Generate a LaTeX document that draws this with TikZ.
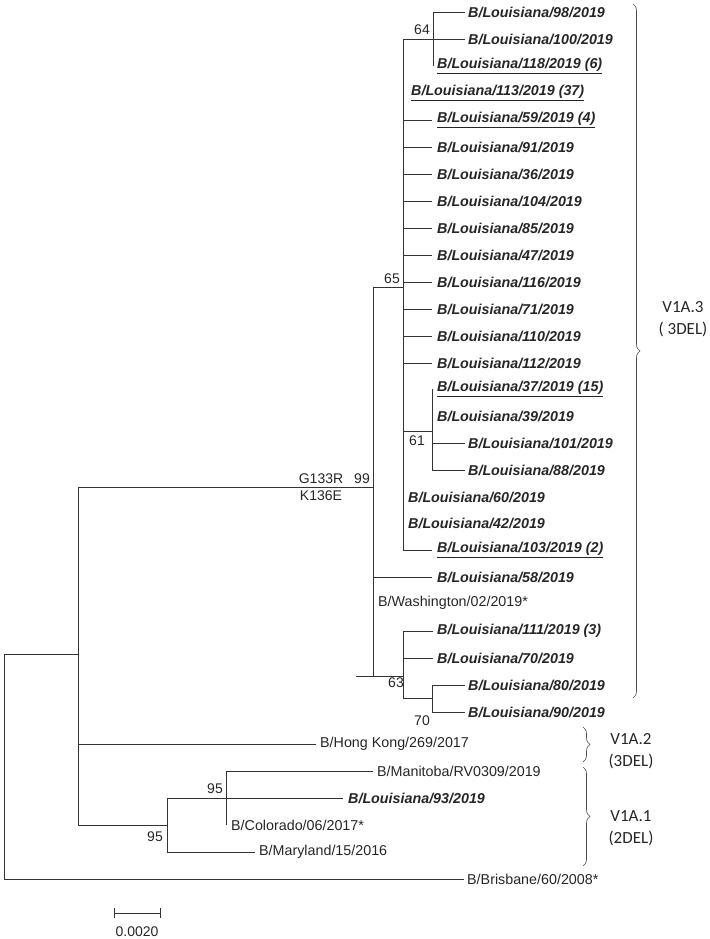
\documentclass[tikz,border=0pt]{standalone}
\usepackage{fontspec}
\setmainfont{Liberation Sans}
\newfontfamily\clfont{Carlito}
\usetikzlibrary{decorations.pathreplacing}
\tikzset{
 br/.style={line width=0.8pt, draw=black!80},
 lf/.style={anchor=west, inner sep=0pt, font=\fontsize{14.3}{16}\selectfont\bfseries\itshape, text=black!85},
 rf/.style={anchor=west, inner sep=0pt, font=\fontsize{14.3}{16}\selectfont, text=black!85},
 bs/.style={inner sep=0pt, font=\fontsize{14}{15}\selectfont, text=black!85},
 cl/.style={align=center, inner sep=0pt, font=\clfont\fontsize{17}{22}\selectfont, text=black!85},
 brc/.style={decorate, decoration={brace, amplitude=7pt}, line width=0.6pt, draw=black!70}
}
\newcommand{\ul}[1]{\underline{#1}}
\begin{document}
\begin{tikzpicture}[x=1pt,y=-1pt]
\useasboundingbox (0,0) rectangle (709,939);
% root
\draw[br] (4,654) -- (4,879) -- (464,879);
\draw[br] (4,654) -- (78,654);
\draw[br] (78,487) -- (78,825);
\node[rf] (bris) at (467,879) {B/Brisbane/60/2008*};
% node 99
\draw[br] (78,487) -- (373,487);
\node[bs,anchor=south] at (321,484) {G133R};
\node[bs,anchor=north] at (321,491) {K136E};
\node[bs,anchor=south east] at (370,484) {99};
\draw[br] (373,287) -- (373,676);
% node 65
\draw[br] (373,287) -- (403,287);
\node[bs,anchor=south east] at (400,284) {65};
\draw[br] (403,39) -- (403,550);
% node 64
\draw[br] (403,39) -- (433,39);
\node[bs,anchor=south east] at (430,35) {64};
\draw[br] (433,12) -- (433,66);
\draw[br] (433,12) -- (465,12); \node[lf] (l98) at (468,12) {B/Louisiana/98/2019};
\draw[br] (433,39) -- (465,39); \node[lf] (l100) at (468,39) {B/Louisiana/100/2019};
\node[lf] (l118) at (437,66) {\ul{B/Louisiana/118/2019 (6)}};
\node[lf] (l113) at (411,93) {\ul{B/Louisiana/113/2019 (37)}};
\foreach \yy/\tx in {120/{\ul{B/Louisiana/59/2019 (4)}},147/{B/Louisiana/91/2019},174/{B/Louisiana/36/2019},201/{B/Louisiana/104/2019},228/{B/Louisiana/85/2019},255/{B/Louisiana/47/2019},282/{B/Louisiana/116/2019},309/{B/Louisiana/71/2019},336/{B/Louisiana/110/2019},363/{B/Louisiana/112/2019},550/{\ul{B/Louisiana/103/2019 (2)}}}{
 \draw[br] (403,\yy) -- (432,\yy);
 \node[lf] at (437,\yy) {\tx};
}
% node 61
\draw[br] (403,431) -- (432,431);
\node[bs,anchor=east] at (425,441) {61};
\draw[br] (432,389) -- (432,470);
\node[lf] (l37) at (437,389) {\ul{B/Louisiana/37/2019 (15)}};
\node[lf] (l39) at (437,416) {B/Louisiana/39/2019};
\draw[br] (432,443) -- (465,443); \node[lf] (l101) at (468,443) {B/Louisiana/101/2019};
\draw[br] (432,470) -- (465,470); \node[lf] (l88) at (468,470) {B/Louisiana/88/2019};
\node[lf] (l60) at (408,497) {B/Louisiana/60/2019};
\node[lf] (l42) at (408,523) {B/Louisiana/42/2019};
% LA58, Washington
\draw[br] (373,577) -- (432,577); \node[lf] (l58) at (437,577) {B/Louisiana/58/2019};
\node[rf] (wash) at (378,603) {B/Washington/02/2019*};
% node 63
\draw[br] (356,676) -- (403,676);
\node[bs,anchor=north east] at (404,678) {63};
\draw[br] (403,631) -- (403,698);
\draw[br] (403,631) -- (433,631); \node[lf] (l111) at (437,631) {B/Louisiana/111/2019 (3)};
\draw[br] (403,658) -- (433,658); \node[lf] (l70) at (437,658) {B/Louisiana/70/2019};
\draw[br] (403,698) -- (432,698);
\node[bs,anchor=north east] at (430,716) {70};
\draw[br] (432,685) -- (432,712);
\draw[br] (432,685) -- (465,685); \node[lf] (l80) at (468,685) {B/Louisiana/80/2019};
\draw[br] (432,712) -- (465,712); \node[lf] (l90) at (468,712) {B/Louisiana/90/2019};
% Hong Kong
\draw[br] (78,744) -- (316,744); \node[rf] (hk) at (320,744) {B/Hong Kong/269/2017};
% node 95 lower
\draw[br] (78,825) -- (167,825);
\node[bs,anchor=north east] at (163,832) {95};
\draw[br] (167,798) -- (167,852);
\draw[br] (167,852) -- (255,852); \node[rf] (mary) at (259,852) {B/Maryland/15/2016};
% node 95 upper
\draw[br] (167,798) -- (343,798); \node[lf] (l93) at (348,798) {B/Louisiana/93/2019};
\node[bs,anchor=south east] at (223,794) {95};
\draw[br] (226,771) -- (226,825);
\draw[br] (226,771) -- (373,771); \node[rf] (man) at (377,771) {B/Manitoba/RV0309/2019};
\node[rf] (col) at (231,825) {B/Colorado/06/2017*};
% braces
\draw[brc] (633,4) -- (633,698);
\node[cl] at (683,319) {V1A.3\\( 3DEL)};
\draw[brc] (583,727) -- (583,762);
\node[cl] at (631,751) {V1A.2\\(3DEL)};
\draw[brc] (583,767) -- (583,866);
\node[cl] at (631,828) {V1A.1\\(2DEL)};
% scale bar
\draw[br] (114,913) -- (160,913);
\draw[br] (114,908) -- (114,918);
\draw[br] (160,908) -- (160,918);
\node[bs] at (137,932) {0.0020};
\end{tikzpicture}
\end{document}
